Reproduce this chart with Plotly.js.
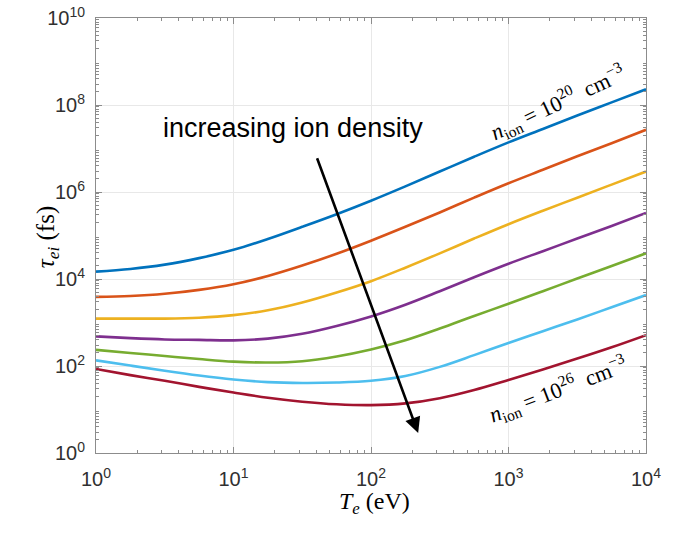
<!DOCTYPE html>
<html>
<head>
<meta charset="utf-8">
<script src="https://cdn.plot.ly/plotly-3.0.1.min.js"></script>
<style>html,body{margin:0;padding:0;background:#fff;}#chart{width:674px;height:536px;}</style>
</head>
<body>
<div id="chart"></div>
<script>
// Electron temperature T_e (eV), quarter-decade samples
const temperature = [1, 1.778, 3.162, 5.623, 10, 17.78, 31.62, 56.23, 100, 177.8, 316.2, 562.3, 1000, 1778, 3162, 5623, 10000];
// log10 of tau_ei (fs) for ion densities 1e20 ... 1e26 cm^-3
const logTau_n20 = [4.17, 4.23, 4.33, 4.48, 4.67, 4.92, 5.20, 5.49, 5.80, 6.13, 6.47, 6.81, 7.14, 7.45, 7.76, 8.06, 8.36];
const logTau_n21 = [3.59, 3.61, 3.66, 3.75, 3.88, 4.07, 4.31, 4.58, 4.88, 5.20, 5.53, 5.87, 6.20, 6.51, 6.82, 7.12, 7.43];
const logTau_n22 = [3.09, 3.09, 3.09, 3.11, 3.17, 3.28, 3.46, 3.69, 3.95, 4.26, 4.59, 4.93, 5.26, 5.57, 5.87, 6.17, 6.47];
const logTau_n23 = [2.68, 2.64, 2.61, 2.60, 2.59, 2.63, 2.74, 2.92, 3.14, 3.41, 3.72, 4.04, 4.35, 4.64, 4.93, 5.22, 5.52];
const logTau_n24 = [2.37, 2.30, 2.23, 2.16, 2.10, 2.08, 2.11, 2.22, 2.38, 2.59, 2.86, 3.15, 3.43, 3.72, 4.01, 4.30, 4.59];
const logTau_n25 = [2.13, 2.01, 1.89, 1.78, 1.69, 1.63, 1.61, 1.62, 1.66, 1.77, 1.98, 2.25, 2.53, 2.80, 3.07, 3.35, 3.63];
const logTau_n26 = [1.93, 1.79, 1.66, 1.52, 1.39, 1.27, 1.18, 1.12, 1.10, 1.14, 1.26, 1.45, 1.68, 1.92, 2.17, 2.43, 2.71];
const seriesNames = ['n=1e20','n=1e21','n=1e22','n=1e23','n=1e24','n=1e25','n=1e26'];
const seriesColors = ['#0072BD','#D95319','#EDB120','#7E2F8E','#77AC30','#4DBEEE','#A2142F'];

const xTickVals = [1, 10, 100, 1000, 10000];
const xTickText = ['10<sup>0</sup>','10<sup>1</sup>','10<sup>2</sup>','10<sup>3</sup>','10<sup>4</sup>'];
const yTickVals = [1, 1e2, 1e4, 1e6, 1e8, 1e10];
const yTickText = ['10<sup>0</sup>','10<sup>2</sup>','10<sup>4</sup>','10<sup>6</sup>','10<sup>8</sup>','10<sup>10</sup>'];

function minorLogTicks(loExp, hiExp) {
  const out = [];
  for (let e = loExp; e < hiExp; e++) {
    for (let m = 2; m <= 9; m++) out.push(m * Math.pow(10, e));
  }
  return out;
}

const allLog = [logTau_n20, logTau_n21, logTau_n22, logTau_n23, logTau_n24, logTau_n25, logTau_n26];
const traces = allLog.map((lg, i) => ({
  x: temperature,
  y: lg.map(v => Math.pow(10, v)),
  type: 'scatter',
  mode: 'lines',
  name: seriesNames[i],
  line: {color: seriesColors[i], width: 2.6, shape: 'spline', smoothing: 1.0},
  hoverinfo: 'skip'
}));

const axisCommon = {
  type: 'log',
  tickmode: 'array',
  showline: true,
  linecolor: '#8c8c8c',
  linewidth: 1,
  mirror: 'allticks',
  ticks: 'inside',
  ticklen: 6,
  tickcolor: '#8c8c8c',
  showgrid: true,
  gridcolor: '#e8e8e8',
  gridwidth: 1,
  zeroline: false,
  tickfont: {family: 'Liberation Sans, Arial, sans-serif', size: 20, color: '#303030'}
};

const layout = {
  width: 674,
  height: 536,
  margin: {l: 96, r: 28, t: 18, b: 83},
  paper_bgcolor: '#ffffff',
  plot_bgcolor: '#ffffff',
  showlegend: false,
  xaxis: Object.assign({}, axisCommon, {
    range: [0, 4],
    tickvals: xTickVals,
    ticktext: xTickText,
    ticklabelstandoff: 8,
    minor: {tickvals: minorLogTicks(0, 4), ticks: 'inside', ticklen: 3, tickcolor: '#8c8c8c', showgrid: false}
  }),
  yaxis: Object.assign({}, axisCommon, {
    range: [0, 10],
    tickvals: yTickVals,
    ticktext: yTickText,
    ticklabelstandoff: 6,
    minor: {tickvals: minorLogTicks(0, 10), ticks: 'inside', ticklen: 3, tickcolor: '#8c8c8c', showgrid: false}
  }),
  annotations: [
    {
      xref: 'x', yref: 'y', x: 2.343, y: 0.46,
      axref: 'x', ayref: 'y', ax: 1.604, ay: 6.81,
      showarrow: true, arrowhead: 2, arrowsize: 1.2, arrowwidth: 2.6, arrowcolor: '#000000',
      text: ''
    },
    {
      xref: 'x', yref: 'y', x: 1.43, y: 7.47,
      text: 'increasing ion density', showarrow: false,
      font: {family: 'Liberation Sans, Arial, sans-serif', size: 27, color: '#000000'}
    },
    {
      xref: 'x', yref: 'y', x: 3.36, y: 8.05, textangle: -25,
      text: '<i>n</i><sub>ion</sub> = 10<sup>20</sup>  cm<sup>−3</sup>', showarrow: false,
      font: {family: 'Liberation Serif, Times New Roman, serif', size: 22, color: '#000000'}
    },
    {
      xref: 'x', yref: 'y', x: 3.36, y: 1.47, textangle: -21,
      text: '<i>n</i><sub>ion</sub> = 10<sup>26</sup>  cm<sup>−3</sup>', showarrow: false,
      font: {family: 'Liberation Serif, Times New Roman, serif', size: 22, color: '#000000'}
    },
    {
      xref: 'paper', yref: 'paper', x: 0.506, y: -0.154,
      text: '<i>T</i><sub><i>e</i></sub> (eV)', showarrow: false,
      font: {family: 'Liberation Serif, Times New Roman, serif', size: 24, color: '#000000'}
    },
    {
      xref: 'paper', yref: 'paper', x: -0.12, y: 0.497, textangle: -90,
      text: '<i>τ</i><sub><i>ei</i></sub> (fs)', showarrow: false,
      font: {family: 'Liberation Serif, Times New Roman, serif', size: 25, color: '#000000'}
    }
  ]
};

Plotly.newPlot('chart', traces, layout, {staticPlot: true, displayModeBar: false});
</script>
</body>
</html>
